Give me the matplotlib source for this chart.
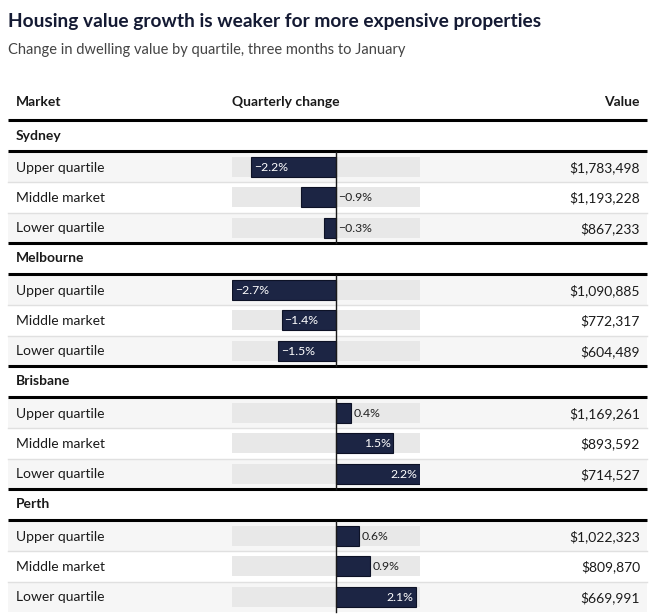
import matplotlib
matplotlib.use("Agg")
import matplotlib.pyplot as plt
from matplotlib.patches import Rectangle

plt.rcParams['font.family'] = ['Lato', 'DejaVu Sans']

title = "Housing value growth is weaker for more expensive properties"
subtitle = "Change in dwelling value by quartile, three months to January"
col_headers = ["Market", "Quarterly change", "Value"]
markets = ["Sydney", "Melbourne", "Brisbane", "Perth"]
segments = ["Upper quartile", "Middle market", "Lower quartile"]
changes = [
    [-2.2, -0.9, -0.3],
    [-2.7, -1.4, -1.5],
    [0.4, 1.5, 2.2],
    [0.6, 0.9, 2.1],
]
values = [
    ["$1,783,498", "$1,193,228", "$867,233"],
    ["$1,090,885", "$772,317", "$604,489"],
    ["$1,169,261", "$893,592", "$714,527"],
    ["$1,022,323", "$809,870", "$669,991"],
]
xmin, xmax = -2.7, 2.2

W, H = 654, 614
dpi = 100
fig = plt.figure(figsize=(W / dpi, H / dpi), dpi=dpi)
fig.patch.set_facecolor("white")
ax = fig.add_axes([0, 0, 1, 1])
ax.set_xlim(0, W)
ax.set_ylim(H, 0)
ax.axis("off")

# bar axes: x in data units, y in pixels
bx0, bx1 = 232, 420
bax = fig.add_axes([bx0 / W, 0, (bx1 - bx0) / W, 1])
bax.set_xlim(xmin, xmax)
bax.set_ylim(H, 0)
bax.axis("off")
bax.patch.set_alpha(0)

navy = "#1c2544"
dark = "#1a1a1a"
L, R = 8, 647
dy = 0.5  # text baseline tweak

ax.text(8, 22, title, fontsize=13.8, fontweight="bold", color="#141a33", va="center")
ax.text(8, 50, subtitle, fontsize=10.5, color="#444444", va="center")

ax.text(16, 101 + dy, col_headers[0], fontsize=10, fontweight="bold", color=dark, va="center")
ax.text(232, 101 + dy, col_headers[1], fontsize=10, fontweight="bold", color=dark, va="center")
ax.text(640, 101 + dy, col_headers[2], fontsize=10, fontweight="bold", color=dark, va="center", ha="right")

y = 120
ax.plot([L, R], [y, y], color="black", lw=2.2, solid_capstyle="butt")
row_h = 30.33
grp_h = 31
for gi, m in enumerate(markets):
    ax.text(16, y + grp_h / 2, m, fontsize=10, fontweight="bold", color=dark, va="center")
    y += grp_h
    ax.plot([L, R], [y, y], color="black", lw=2.2, solid_capstyle="butt")
    top = y
    for ri, seg in enumerate(segments):
        ry0 = y + 1
        if ri != 1:
            ax.add_patch(Rectangle((L, ry0), R - L, row_h, color="#f6f6f6", lw=0, zorder=0))
        if ri > 0:
            ax.plot([L, R], [ry0, ry0], color="#e0e0e0", lw=1, zorder=1)
        cy = ry0 + row_h / 2
        ax.text(16, cy + dy, seg, fontsize=10, color=dark, va="center")
        ax.text(640, cy + dy, values[gi][ri], fontsize=10, color=dark, va="center", ha="right")
        # track
        bax.barh(cy, xmax - xmin, left=xmin, height=20, color="#e8e8e8", lw=0, zorder=1)
        v = changes[gi][ri]
        bax.barh(cy, v, left=0, height=20, color=navy, edgecolor="#0d1226", lw=0.8, zorder=2)
        lab = f"{v:.1f}%".replace("-", "\u2212")
        if abs(v) >= 1.2:
            if v < 0:
                bax.text(v + 0.07, cy + dy, lab, color="white", fontsize=8.8, va="center", ha="left", zorder=4)
            else:
                bax.text(v - 0.07, cy + dy, lab, color="white", fontsize=8.8, va="center", ha="right", zorder=4)
        else:
            xpos = max(v, 0) + 0.07
            bax.text(xpos, cy + dy, lab, color="#222222", fontsize=8.8, va="center", ha="left", zorder=4, clip_on=False)
        y += row_h
    bax.plot([0, 0], [top + 1, y + 1], color=dark, lw=1, zorder=3)
    if gi < len(markets) - 1:
        ax.plot([L, R], [y + 1, y + 1], color="black", lw=2.2, solid_capstyle="butt")
        y += 1

fig.savefig("out.png", dpi=dpi, facecolor="white")
